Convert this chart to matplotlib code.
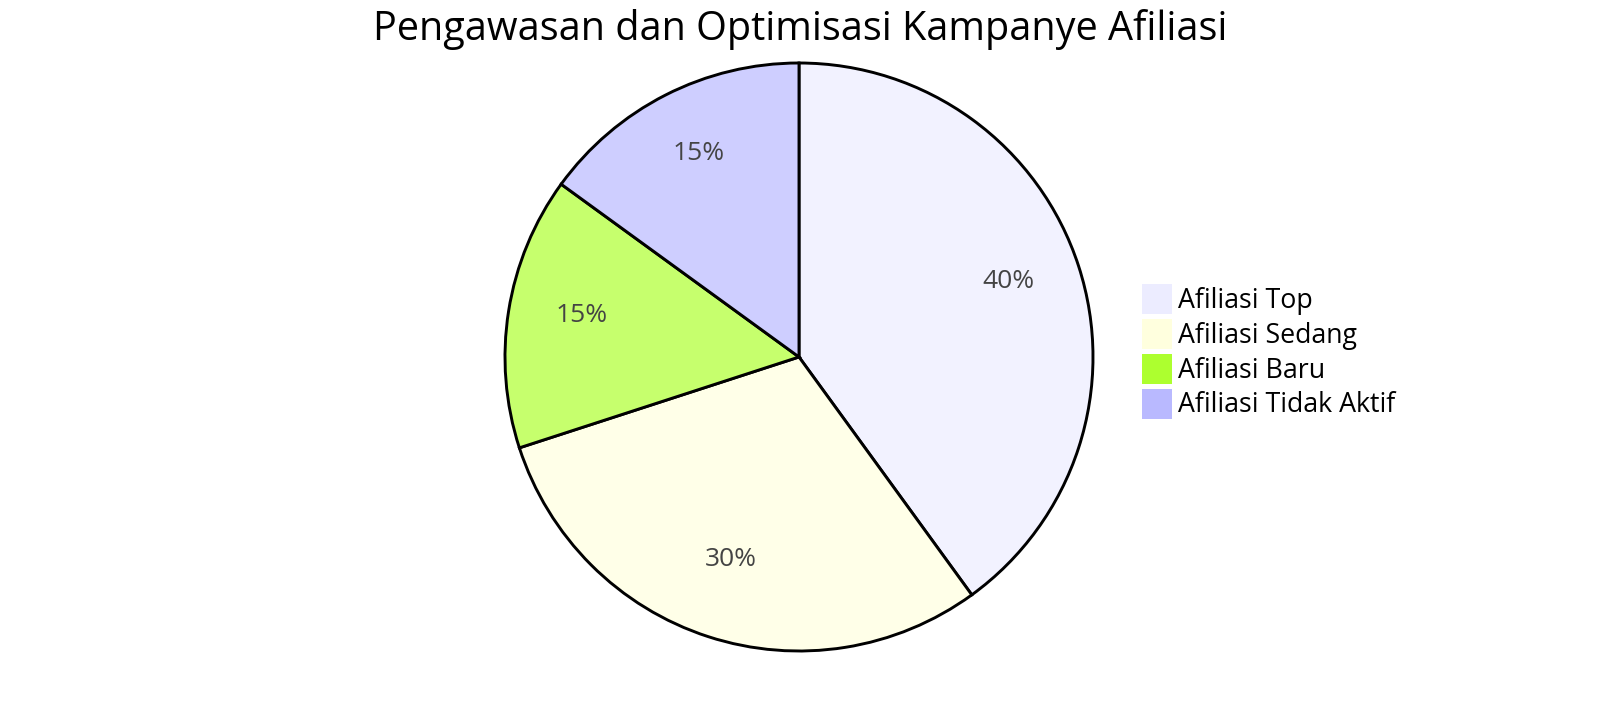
import matplotlib
matplotlib.use("Agg")
import matplotlib.pyplot as plt
from matplotlib.patches import Patch
from matplotlib.colors import to_rgb

plt.rcParams['font.family'] = ['Open Sans', 'DejaVu Sans']

title = "Pengawasan dan Optimisasi Kampanye Afiliasi"
categories = ["Afiliasi Top", "Afiliasi Sedang", "Afiliasi Baru", "Afiliasi Tidak Aktif"]
values = [40, 30, 15, 15]
colors = ["#ECECFF", "#FFFFDE", "#ADFF2F", "#B9B9FF"]
slice_opacity = 0.7

def blend(c, a):
    rgb = to_rgb(c)
    return tuple(a * v + (1 - a) * 1.0 for v in rgb)

slice_colors = [blend(c, slice_opacity) for c in colors]

W, H = 1600, 714
fig = plt.figure(figsize=(W / 100, H / 100), dpi=100)

cx, cy, r = 799, 357, 294
pad = 1.02
ax = fig.add_axes([(cx - r * pad) / W, (H - cy - r * pad) / H, 2 * r * pad / W, 2 * r * pad / H])
wedges, texts, autotexts = ax.pie(
    values, colors=slice_colors, startangle=90, counterclock=False,
    autopct='%1.0f%%', pctdistance=0.75, radius=1,
    wedgeprops=dict(edgecolor='black', linewidth=2.1),
    textprops=dict(fontsize=19, color='#444444'),
)
for t in autotexts:
    t.set_va('center_baseline')
    x, y = t.get_position()
    t.set_position((x, y + 10 / r))
ax.set_xlim(-pad, pad)
ax.set_ylim(-pad, pad)
ax.axis('off')

fig.text(800 / W, 1 - 40 / H, title, ha='center', va='baseline', fontsize=28.5, color='black')

handles = [Patch(facecolor=c, edgecolor='none') for c in colors]
fs = 19.3
fs_px = fs * 100 / 72
hh = (30 / fs_px - 0.245) / 0.65
leg = fig.legend(handles, categories, loc='upper left',
                 bbox_to_anchor=(1142 / W, 1 - 284 / H), frameon=False,
                 fontsize=fs, handlelength=30 / fs_px, handleheight=hh,
                 labelspacing=3.9 / fs_px, handletextpad=6 / fs_px,
                 borderpad=0, borderaxespad=0)

fig.savefig("out.png", dpi=100, facecolor='white')
